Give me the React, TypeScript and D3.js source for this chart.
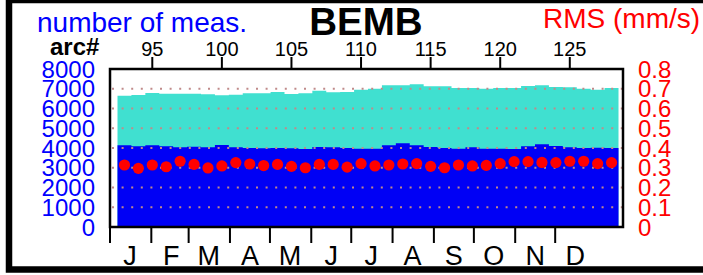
import React from "react";
import * as d3 from "d3";

const arcs = [93, 94, 95, 96, 97, 98, 99, 100, 101, 102, 103, 104, 105, 106, 107, 108, 109, 110,
  111, 112, 113, 114, 115, 116, 117, 118, 119, 120, 121, 122, 123, 124, 125, 126, 127, 128];
const totalMeas = [6650, 6684, 6785, 6751, 6751, 6751, 6718, 6667, 6700, 6768, 6768, 6835, 6734, 6768, 6903, 6818, 6835, 6954,
  7004, 7173, 7173, 7224, 7122, 7122, 7038, 7038, 7004, 7038, 7038, 7139, 7173, 7089, 7072, 7004, 6954, 7038];
const usedMeas = [4135, 4085, 4135, 4085, 4034, 4068, 4034, 4152, 4034, 4000, 3983, 4000, 3983, 3949, 4051, 4034, 4000, 3966,
  3966, 4135, 4236, 4135, 4051, 4000, 3966, 4034, 3966, 3966, 3949, 4085, 4186, 4101, 4034, 4000, 4017, 4000];
const rms = [0.314, 0.297, 0.314, 0.305, 0.333, 0.317, 0.299, 0.309, 0.326, 0.319, 0.311, 0.317, 0.307, 0.300, 0.317, 0.317, 0.303, 0.321,
  0.309, 0.314, 0.319, 0.321, 0.307, 0.300, 0.314, 0.309, 0.312, 0.321, 0.331, 0.331, 0.327, 0.326, 0.333, 0.333, 0.321, 0.326];
const arcTicks = [95, 100, 105, 110, 115, 120, 125];
const measTicks = [0, 1000, 2000, 3000, 4000, 5000, 6000, 7000, 8000];
const gridTicks = [1000, 2000, 3000, 4000, 5000, 6000, 7000];
const rmsTicks = [0, 0.1, 0.2, 0.3, 0.4, 0.5, 0.6, 0.7, 0.8];
const monthLabels = ["J", "F", "M", "A", "M", "J", "J", "A", "S", "O", "N", "D"];
const title = "BEMB";

const FONT = "'Liberation Sans', Arial, Helvetica, sans-serif";

export default function App() {
  const W = 703, H = 275;
  const plot = { l: 110, r: 623, t: 69, b: 227 };
  const xArc = d3.scaleLinear().domain([92.5, 128.5]).range([117.5, 618.5]);
  const yMeas = d3.scaleLinear().domain([0, 8000]).range([plot.b, plot.t]);
  const yRms = d3.scaleLinear().domain([0, 0.8]).range([plot.b, plot.t]);
  const xTime = d3.scaleTime().domain([new Date(2001, 0, 1), new Date(2002, 0, 1)]).range([110, 596.5]);
  const monthStarts = d3.timeMonths(new Date(2001, 0, 1), new Date(2002, 0, 1));

  const stepPts = (vals: number[]) => {
    const pts: [number, number][] = arcs.map((a, i) => [a - 0.5, vals[i]]);
    pts.push([arcs[arcs.length - 1] + 0.5, vals[vals.length - 1]]);
    return pts;
  };
  const area = d3.area<[number, number]>()
    .x(d => xArc(d[0]))
    .y0(yMeas(0))
    .y1(d => yMeas(d[1]))
    .curve(d3.curveStepAfter);

  return (
    <svg width={W} height={H} style={{ position: "absolute", left: 0, top: 0, background: "#fff" }} fontFamily={FONT}>
      <rect x={0} y={0} width={W} height={H} fill="#fff" />
      {/* bars */}
      <path d={area(stepPts(totalMeas)) || ""} fill="#40e0d0" />
      <path d={area(stepPts(usedMeas)) || ""} fill="#0000f5" />
      {/* grid */}
      {gridTicks.map(t => (
        <line key={t} x1={plot.l + 2} x2={plot.r - 1} y1={yMeas(t)} y2={yMeas(t)}
          stroke="#c08a8a" strokeWidth={2} strokeDasharray="2 7.6" />
      ))}
      {/* rms dots */}
      {arcs.map((a, i) => (
        <circle key={a} cx={xArc(a)} cy={yRms(rms[i])} r={5.6} fill="#ff0000" />
      ))}
      {/* frame */}
      <rect x={plot.l} y={plot.t} width={plot.r - plot.l} height={plot.b - plot.t} fill="none" stroke="#000" strokeWidth={2.5} />
      {/* top arc axis */}
      {arcTicks.map(t => (
        <g key={t}>
          <line x1={xArc(t)} x2={xArc(t)} y1={57} y2={plot.t} stroke="#000" strokeWidth={2} />
          <text x={xArc(t)} y={56} textAnchor="middle" fontSize={20} fill="#000">{t}</text>
        </g>
      ))}
      <text x={50} y={55} fontSize={24} fontWeight="bold" fill="#000">arc#</text>
      {/* left axis labels */}
      {measTicks.map(t => (
        <text key={t} x={95} y={yMeas(t)} dy="0.36em" textAnchor="end" fontSize={24} fill="#0000ff">{t}</text>
      ))}
      {/* right axis labels */}
      {rmsTicks.map(t => (
        <text key={t} x={638} y={yRms(t)} dy="0.36em" textAnchor="start" fontSize={24} fill="#ff0000">{d3.format("~g")(t)}</text>
      ))}
      {/* month axis */}
      {monthStarts.map((m, i) => (
        <g key={i}>
          <line x1={xTime(m)} x2={xTime(m)} y1={plot.b} y2={243} stroke="#000" strokeWidth={2} />
          <text x={xTime(d3.timeDay.offset(m, 15))} y={265} textAnchor="middle" fontSize={27} fill="#000">{monthLabels[i]}</text>
        </g>
      ))}
      {/* titles */}
      <text x={37} y={32} fontSize={28} fill="#0000ff">number of meas.</text>
      <text x={366} y={34.5} textAnchor="middle" fontSize={38.5} fontWeight="bold" fill="#000">{title}</text>
      <text x={543} y={28} fontSize={28} fill="#ff0000">RMS (mm/s)</text>
      {/* outer border */}
      <rect x={9} y={0} width={800} height={269.5} fill="none" stroke="#000" strokeWidth={6.5} />
    </svg>
  );
}
